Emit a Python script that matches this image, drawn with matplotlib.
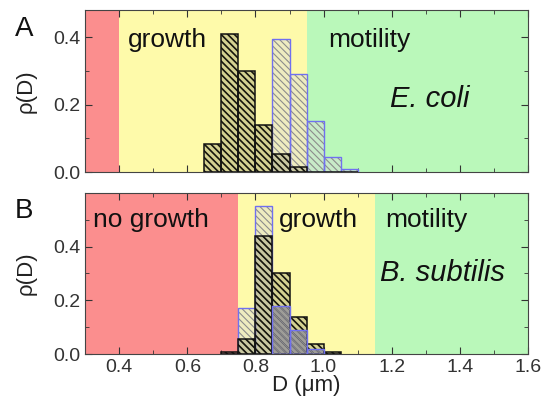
import numpy as np
import matplotlib.pyplot as plt
from matplotlib.ticker import MultipleLocator, FixedLocator

plt.rcParams['font.family'] = ['Liberation Sans', 'DejaVu Sans']

# bin left edges (width 0.05 um)
edges_a = [0.65, 0.70, 0.75, 0.80, 0.85, 0.90, 0.95, 1.00, 1.05]
growth_a = [0.084, 0.41, 0.30, 0.14, 0.053, 0.016, 0.0, 0.0, 0.0]
motile_a = [0.0, 0.0, 0.0, 0.0, 0.395, 0.29, 0.152, 0.045, 0.008]

edges_b = [0.70, 0.75, 0.80, 0.85, 0.90, 0.95, 1.00]
growth_b = [0.006, 0.056, 0.44, 0.30, 0.137, 0.037, 0.006]
motile_b = [0.0, 0.17, 0.55, 0.18, 0.09, 0.02, 0.0]

# background zones (start, end, colour)
zones_a = [(0.3, 0.4, '#fb8e8e'), (0.4, 0.95, '#fefaaa'), (0.95, 1.6, '#baf8ba')]
zones_b = [(0.3, 0.75, '#fb8e8e'), (0.75, 1.15, '#fefaaa'), (1.15, 1.6, '#baf8ba')]

W = 0.05
HATCH = '\\' * 5

fig = plt.figure(figsize=(5.43, 4.01), dpi=100)
ax1 = fig.add_axes([0.157, 0.571, 0.815, 0.404])
ax2 = fig.add_axes([0.157, 0.117, 0.815, 0.402])


def draw_panel(ax, edges, growth, motile, zones, ymax):
    for x0, x1, c in zones:
        ax.axvspan(x0, x1, color=c, lw=0, zorder=0)

    # light (motility) bars: grey hatch, blue outline
    with plt.rc_context({'hatch.linewidth': 0.8}):
        lf = ax.bar(edges, motile, width=W, align='edge', facecolor=(0.86, 0.86, 0.86, 0.45),
                    edgecolor='#8c8c8c', hatch=HATCH, lw=0, zorder=2)
    lo = ax.bar(edges, motile, width=W, align='edge', fill=False,
                edgecolor='#7070f0', lw=1.0, zorder=3)

    # dark (growth) bars: black hatch, black outline
    with plt.rc_context({'hatch.linewidth': 1.2}):
        ax.bar(edges, growth, width=W, align='edge', facecolor=(0.45, 0.45, 0.35, 0.3),
               edgecolor='#15150c', hatch=HATCH, lw=0, zorder=4)
    ax.bar(edges, growth, width=W, align='edge', fill=False,
           edgecolor='#111111', lw=1.1, zorder=5)

    # the shorter bar of each bin sits in front
    for i in range(len(edges)):
        if 0 < motile[i] < growth[i]:
            lf[i].set_zorder(6)
            lf[i].set_facecolor((0.45, 0.45, 0.62, 0.55))
            lo[i].set_zorder(7)

    ax.set_xlim(0.3, 1.6)
    ax.set_ylim(0, ymax)
    ax.xaxis.set_major_locator(MultipleLocator(0.2))
    ax.xaxis.set_minor_locator(MultipleLocator(0.1))
    ax.yaxis.set_major_locator(FixedLocator([0.0, 0.2, 0.4]))
    ax.yaxis.set_minor_locator(FixedLocator([0.1, 0.3, 0.5]))
    ax.tick_params(which='both', direction='in', top=True, right=True,
                   labelsize=14, colors='#333333', labelcolor='#333333')
    ax.tick_params(which='major', length=5)
    ax.tick_params(which='minor', length=3)
    ax.set_ylabel('ρ(D)', fontsize=16, labelpad=12, color='#222222')
    for s in ax.spines.values():
        s.set_color('#444444')
        s.set_zorder(10)


draw_panel(ax1, edges_a, growth_a, motile_a, zones_a, 0.48)
draw_panel(ax2, edges_b, growth_b, motile_b, zones_b, 0.6)
ax1.set_xticklabels([])
ax2.set_xlabel('D (μm)', fontsize=16, labelpad=-1, color='#222222')
ax2.set_xticks([0.4, 0.6, 0.8, 1.0, 1.2, 1.4, 1.6])
ax2.set_xticklabels(['0.4', '0.6', '0.8', '1.0', '1.2', '1.4', '1.6'])

ax1.text(0.425, 0.39, 'growth', fontsize=19, va='center', color='#111111')
ax1.text(1.014, 0.39, 'motility', fontsize=19, va='center', color='#111111')
ax1.text(1.196, 0.215, 'E. coli', fontsize=21, style='italic', va='center', color='#111111')

ax2.text(0.323, 0.50, 'no growth', fontsize=19, va='center', color='#111111')
ax2.text(0.87, 0.50, 'growth', fontsize=19, va='center', color='#111111')
ax2.text(1.18, 0.50, 'motility', fontsize=19, va='center', color='#111111')
ax2.text(1.167, 0.30, 'B. subtilis', fontsize=21, style='italic', va='center', color='#111111')

fig.text(0.028, 0.91, 'A', fontsize=20, color='#111111', va='baseline')
fig.text(0.028, 0.456, 'B', fontsize=20, color='#111111', va='baseline')

fig.savefig('out.png', dpi=100)
